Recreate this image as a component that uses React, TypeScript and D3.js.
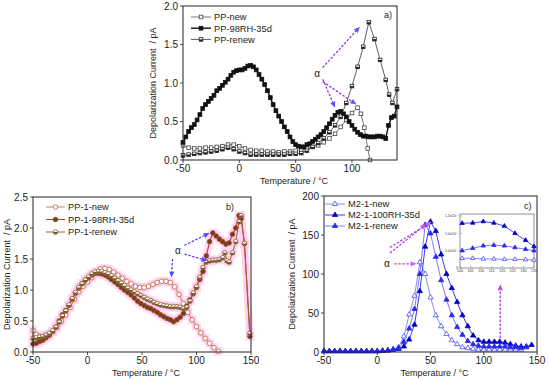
import { useEffect, useRef } from 'react';
import * as d3 from 'd3';

type Pt = [number, number];

// ---- panel a) PP films ----
const ppNew: Pt[] = [
  [-50, 0.19], [-45, 0.16], [-40, 0.15], [-35, 0.15], [-30, 0.16], [-25, 0.16], [-20, 0.17], [-15, 0.18],
  [-10, 0.2], [-5, 0.2], [0, 0.18], [5, 0.15], [10, 0.13], [15, 0.12], [20, 0.12], [25, 0.11], [30, 0.11],
  [35, 0.1], [40, 0.11], [45, 0.11], [50, 0.12], [55, 0.13], [60, 0.15], [65, 0.17], [70, 0.19], [75, 0.23],
  [80, 0.28], [85, 0.34], [90, 0.43], [95, 0.52], [100, 0.61], [105, 0.68], [108, 0.6], [111, 0.42],
  [114, 0.15], [116, 0.0],
];
const pp98: Pt[] = [
  [-50, 0.23], [-47.5, 0.3], [-45, 0.37], [-42.5, 0.42], [-40, 0.46], [-37.5, 0.52], [-35, 0.59], [-32.5, 0.67],
  [-30, 0.72], [-27.5, 0.76], [-25, 0.8], [-22.5, 0.84], [-20, 0.9], [-17.5, 0.93], [-15, 0.97], [-12.5, 1.01],
  [-10, 1.05], [-7.5, 1.1], [-5, 1.14], [-2.5, 1.16], [0, 1.17], [2.5, 1.17], [5, 1.19], [7.5, 1.22],
  [10, 1.23], [12.5, 1.21], [15, 1.17], [17.5, 1.11], [20, 1.05], [22.5, 0.98], [25, 0.9], [27.5, 0.81],
  [30, 0.72], [32.5, 0.64], [35, 0.57], [37.5, 0.5], [40, 0.43], [42.5, 0.37], [45, 0.3], [47.5, 0.24],
  [50, 0.2], [52.5, 0.18], [55, 0.17], [57.5, 0.17], [60, 0.2], [62.5, 0.21], [65, 0.24], [67.5, 0.27],
  [70, 0.3], [72.5, 0.33], [75, 0.37], [77.5, 0.42], [80, 0.47], [82.5, 0.53], [85, 0.58], [87.5, 0.62],
  [90, 0.63], [92.5, 0.6], [95, 0.56], [97.5, 0.5], [100, 0.45], [102.5, 0.4], [105, 0.36], [107.5, 0.33],
  [110, 0.31], [112.5, 0.31], [115, 0.3], [117.5, 0.3], [120, 0.3], [122.5, 0.31], [125, 0.31], [127.5, 0.3],
  [130, 0.28], [132.5, 0.45], [135, 0.55], [137.5, 0.57], [140, 0.69],
];
const ppRenew: Pt[] = [
  [-50, 0.06], [-45, 0.07], [-40, 0.08], [-35, 0.09], [-30, 0.1], [-25, 0.11], [-20, 0.12], [-15, 0.14],
  [-10, 0.16], [-5, 0.14], [0, 0.11], [5, 0.09], [10, 0.07], [15, 0.07], [20, 0.07], [25, 0.07], [30, 0.07],
  [35, 0.07], [40, 0.07], [45, 0.08], [50, 0.08], [55, 0.09], [60, 0.12], [65, 0.17], [70, 0.22], [75, 0.28],
  [80, 0.36], [85, 0.45], [90, 0.56], [95, 0.74], [100, 0.96], [105, 1.21], [110, 1.47], [115, 1.79],
  [120, 1.57], [125, 1.3], [130, 1.04], [133, 0.85], [136, 0.74], [140, 0.92],
];

// ---- panel b) PP-1 films ----
const pp1New: Pt[] = [
  [-50, 0.35], [-47, 0.28], [-44, 0.25], [-40, 0.25], [-36, 0.27], [-32, 0.33], [-28, 0.4], [-24, 0.5],
  [-20, 0.6], [-16, 0.72], [-12, 0.85], [-8, 0.97], [-4, 1.06], [0, 1.13], [4, 1.2], [8, 1.28], [12, 1.34],
  [16, 1.35], [20, 1.33], [24, 1.29], [28, 1.24], [32, 1.19], [36, 1.14], [40, 1.1], [44, 1.06], [48, 1.04],
  [52, 1.04], [56, 1.06], [60, 1.09], [64, 1.12], [68, 1.14], [72, 1.14], [76, 1.12], [80, 1.05], [84, 0.93],
  [88, 0.78], [92, 0.64], [96, 0.52], [100, 0.41], [104, 0.31], [108, 0.22], [112, 0.14], [116, 0.07], [120, 0.01],
];
const pp1Rh: Pt[] = [
  [-50, 0.13], [-47, 0.14], [-44, 0.17], [-41, 0.19], [-38, 0.23], [-35, 0.27], [-32, 0.33], [-29, 0.4],
  [-26, 0.5], [-23, 0.6], [-20, 0.67], [-17, 0.75], [-14, 0.85], [-11, 0.95], [-8, 1.03], [-5, 1.1], [-2, 1.16],
  [1, 1.2], [4, 1.24], [7, 1.27], [10, 1.27], [13, 1.26], [16, 1.24], [19, 1.21], [22, 1.17], [25, 1.13],
  [28, 1.09], [31, 1.04], [34, 1.0], [37, 0.96], [40, 0.92], [43, 0.87], [46, 0.82], [49, 0.78], [52, 0.75],
  [55, 0.72], [58, 0.7], [61, 0.67], [64, 0.64], [67, 0.6], [70, 0.57], [73, 0.54], [76, 0.52], [79, 0.49],
  [82, 0.52], [85, 0.56], [88, 0.62], [91, 0.74], [94, 0.84], [97, 0.94], [100, 1.04], [103, 1.17], [106, 1.3],
  [109, 1.55], [112, 1.78], [115, 1.92], [118, 1.87], [121, 1.82], [124, 1.78], [127, 1.74], [130, 1.76],
  [133, 1.9], [136, 2.0], [139, 2.2], [141, 2.15], [144, 1.75], [149, 0.25],
];
const pp1Renew: Pt[] = [
  [-50, 0.22], [-47, 0.23], [-44, 0.24], [-41, 0.25], [-38, 0.27], [-35, 0.3], [-32, 0.34], [-29, 0.4],
  [-26, 0.48], [-23, 0.58], [-20, 0.66], [-17, 0.76], [-14, 0.86], [-11, 0.96], [-8, 1.04], [-5, 1.1],
  [-2, 1.16], [1, 1.21], [4, 1.26], [7, 1.29], [10, 1.3], [13, 1.3], [16, 1.28], [19, 1.26], [22, 1.23],
  [25, 1.19], [28, 1.15], [31, 1.11], [34, 1.07], [37, 1.03], [40, 1.0], [43, 0.97], [46, 0.94], [49, 0.91],
  [52, 0.88], [55, 0.85], [58, 0.83], [61, 0.8], [64, 0.78], [67, 0.76], [70, 0.75], [73, 0.74], [76, 0.73],
  [79, 0.73], [82, 0.73], [85, 0.72], [88, 0.7], [91, 0.72], [94, 0.82], [97, 0.95], [100, 1.05], [103, 1.2],
  [106, 1.36], [109, 1.45], [112, 1.47], [115, 1.48], [118, 1.48], [121, 1.49], [124, 1.52], [126, 1.6],
  [128, 1.47], [130, 1.45], [133, 1.6], [136, 1.78], [139, 2.1], [141, 2.2], [144, 1.75], [149, 0.3],
];

// ---- panel c) M2-1 films ----
const m2New: Pt[] = [
  [-50, 1], [-45, 1], [-40, 1], [-35, 1], [-30, 1], [-25, 1], [-20, 1], [-15, 1], [-10, 1], [-5, 1], [0, 1],
  [5, 1.5], [10, 2], [15, 3], [20, 6], [25, 20], [30, 48], [35, 72], [40, 115], [45, 100], [50, 70], [55, 47],
  [60, 33], [65, 23], [70, 15], [75, 10], [80, 6], [85, 5], [90, 4], [95, 3], [100, 3], [105, 3], [110, 3],
  [115, 3], [120, 3], [125, 3], [130, 3], [135, 3],
];
const m2Rh: Pt[] = [
  [-50, 1], [-45, 1], [-40, 1], [-35, 1], [-30, 1], [-25, 1], [-20, 1], [-15, 1], [-10, 1], [-5, 1], [0, 1],
  [5, 1.5], [10, 2], [15, 3], [20, 4], [25, 7], [30, 16], [35, 35], [40, 78], [45, 135], [50, 167], [55, 155],
  [60, 125], [65, 100], [70, 82], [75, 64], [80, 47], [85, 33], [90, 21], [95, 15], [100, 13], [105, 13],
  [110, 13], [115, 13], [120, 12], [125, 10], [130, 8], [135, 7], [140, 7], [145, 9],
];
const m2Renew: Pt[] = [
  [-50, 1], [-45, 1], [-40, 1], [-35, 1], [-30, 1], [-25, 1], [-20, 1], [-15, 1], [-10, 1], [-5, 1], [0, 1],
  [5, 1.5], [10, 2], [15, 3], [20, 5], [25, 13], [30, 30], [35, 55], [40, 100], [45, 163], [50, 152],
  [55, 122], [60, 92], [65, 67], [70, 47], [75, 32], [80, 22], [85, 14], [90, 10], [95, 8], [100, 7], [105, 7],
  [110, 7], [115, 7], [120, 7], [125, 6], [130, 6], [135, 5], [140, 6],
];

// inset of panel c)
const insetT = [101, 106, 111, 116, 121, 126, 131, 135];
const insetRh = [0.129, 0.13, 0.134, 0.13, 0.121, 0.1, 0.08, 0.062];
const insetRenew = [0.05, 0.057, 0.064, 0.066, 0.064, 0.059, 0.054, 0.05];
const insetNew = [0.028, 0.028, 0.026, 0.026, 0.025, 0.025, 0.024, 0.023];
const insetXTicks = [100, 105, 110, 115, 120, 125, 130, 135];
const insetYTicks = [0, 0.05, 0.1, 0.15];
const insetYLabels = ['0', '5.0x10\u207B\u00B2', '1.0x10\u207B\u00B9', '1.5x10\u207B\u00B9'];

const ticksA = { x: [-50, 0, 50, 100], y: [0, 0.5, 1, 1.5, 2] };
const ticksB = { x: [-50, 0, 50, 100, 150], y: [0, 0.5, 1, 1.5, 2, 2.5] };
const ticksC = { x: [-50, 0, 50, 100, 150], y: [0, 50, 100, 150, 200] };

const legendA = ['PP-new', 'PP-98RH-35d', 'PP-renew'];
const legendB = ['PP-1-new', 'PP-1-98RH-35d', 'PP-1-renew'];
const legendC = ['M2-1-new', 'M2-1-100RH-35d', 'M2-1-renew'];

// alpha annotations (data coords)
const alphaA: Pt = [69, 1.12];
const arrowsA: [Pt, Pt][] = [[[74, 1.2], [107, 1.73]], [[74, 1.05], [85, 0.68]], [[74, 1.02], [104, 0.72]]];
const alphaB: Pt = [83, 1.63];
const arrowsB: [Pt, Pt][] = [[[89, 1.72], [112, 1.92]], [[89, 1.58], [110, 1.47]], [[78, 1.5], [77, 1.2]]];
const alphaC: Pt = [9, 113];
const arrowsC: [Pt, Pt][] = [[[16, 113], [37, 113]], [[12, 127], [46, 164]], [[12, 134], [51, 167]]];
const arrowC2: [Pt, Pt] = [[115.5, 18], [115.5, 87]];

const FONT = '"Liberation Sans", Arial, Helvetica, sans-serif';

type Marker = 'sqOpen' | 'sqFill' | 'sqHalf' | 'cOpen' | 'cFill' | 'cHalf' | 'tOpen' | 'tFill';
interface Series { data: Pt[]; marker: Marker; line: string; lw: number; stroke: string; fill: string; size: number; }
interface Panel {
  left: number; right: number; top: number; bottom: number;
  xDom: [number, number]; yDom: [number, number];
  ticks: { x: number[]; y: number[] }; yFmt: (v: number) => string;
  series: Series[]; legend: string[]; legendPos: { x0: number; x1: number; tx: number; y: number; dy: number };
  tag: string; tagPos: Pt; yTitleX: number; halo?: string;
  alpha: Pt; arrows: [Pt, Pt][]; dash: string; head: string;
}

type Sel = d3.Selection<SVGGElement, unknown, null, undefined>;

function drawMarker(g: Sel, m: Marker, cx: number, cy: number, s: number, stroke: string, fill: string) {
  const h = s / 2;
  if (m.startsWith('sq')) {
    g.append('rect').attr('x', cx - h).attr('y', cy - h).attr('width', s).attr('height', s)
      .attr('fill', m === 'sqFill' ? fill : '#fff').attr('stroke', stroke).attr('stroke-width', 0.8);
    if (m === 'sqHalf') {
      g.append('rect').attr('x', cx - h).attr('y', cy).attr('width', s).attr('height', h).attr('fill', fill);
    }
  } else if (m.startsWith('c')) {
    g.append('circle').attr('cx', cx).attr('cy', cy).attr('r', h)
      .attr('fill', m === 'cFill' ? fill : '#fff').attr('stroke', stroke).attr('stroke-width', 0.8);
    if (m === 'cHalf') {
      g.append('path').attr('d', `M${cx - h},${cy} A${h},${h} 0 0 0 ${cx + h},${cy} Z`).attr('fill', fill);
    }
  } else {
    const r = s * 0.6;
    const p = `M${cx},${cy - r} L${cx + r * 0.87},${cy + r * 0.5} L${cx - r * 0.87},${cy + r * 0.5} Z`;
    g.append('path').attr('d', p).attr('fill', m === 'tFill' ? fill : '#fff')
      .attr('stroke', stroke).attr('stroke-width', 0.8);
  }
}

function drawArrow(g: Sel, x1: number, y1: number, x2: number, y2: number, dash: string, head: string) {
  const ang = Math.atan2(y2 - y1, x2 - x1);
  const L = 6;
  const bx = x2 - L * Math.cos(ang), by = y2 - L * Math.sin(ang);
  g.append('line').attr('x1', x1).attr('y1', y1).attr('x2', bx).attr('y2', by)
    .attr('stroke', dash).attr('stroke-width', 1.3).attr('stroke-dasharray', '2.5,1.5');
  const px = -Math.sin(ang) * 2.6, py = Math.cos(ang) * 2.6;
  g.append('path').attr('d', `M${x2},${y2} L${bx + px},${by + py} L${bx - px},${by - py} Z`).attr('fill', head);
}

function drawPanel(svg: d3.Selection<SVGSVGElement, unknown, null, undefined>, p: Panel) {
  const x = d3.scaleLinear().domain(p.xDom).range([p.left, p.right]);
  const y = d3.scaleLinear().domain(p.yDom).range([p.bottom, p.top]);
  const g = svg.append('g').style('font-family', FONT);

  // ticks + labels
  p.ticks.x.forEach(t => {
    g.append('line').attr('x1', x(t)).attr('x2', x(t)).attr('y1', p.bottom).attr('y2', p.bottom + 3)
      .attr('stroke', '#222').attr('stroke-width', 0.8);
    g.append('text').attr('x', x(t)).attr('y', p.bottom + 12).attr('text-anchor', 'middle')
      .attr('font-size', 10).attr('fill', '#222').text(t);
  });
  p.ticks.y.forEach(t => {
    g.append('line').attr('x1', p.left - 3).attr('x2', p.left).attr('y1', y(t)).attr('y2', y(t))
      .attr('stroke', '#222').attr('stroke-width', 0.8);
    g.append('text').attr('x', p.left - 5).attr('y', y(t) + 3.5).attr('text-anchor', 'end')
      .attr('font-size', 10).attr('fill', '#222').text(p.yFmt(t));
  });
  g.append('text').attr('x', (p.left + p.right) / 2 + 4).attr('y', p.bottom + 23.5).attr('text-anchor', 'middle')
    .attr('font-size', 9).attr('fill', '#222').text('Temperature / \u00B0C');
  g.append('text').attr('transform', `translate(${p.yTitleX},${(p.top + p.bottom) / 2}) rotate(-90)`)
    .attr('text-anchor', 'middle').attr('dominant-baseline', 'central').style('white-space', 'pre')
    .attr('font-size', 9).attr('fill', '#222').text('Depolarization Current  / pA');

  const line = d3.line<Pt>().x(d => x(d[0])).y(d => y(d[1]));

  if (p.halo) {
    p.series.forEach(s => {
      g.append('path').attr('d', line(s.data)).attr('fill', 'none').attr('stroke', p.halo!)
        .attr('stroke-width', 7).attr('stroke-linejoin', 'round').attr('opacity', 0.6);
      s.data.forEach(d => g.append('rect').attr('x', x(d[0]) - 4.5).attr('y', y(d[1]) - 4.5)
        .attr('width', 9).attr('height', 9).attr('fill', p.halo!).attr('opacity', 0.55));
    });
  }

  p.series.forEach(s => {
    g.append('path').attr('d', line(s.data)).attr('fill', 'none').attr('stroke', s.line)
      .attr('stroke-width', s.lw).attr('stroke-linejoin', 'round');
  });
  p.series.forEach(s => {
    s.data.forEach(d => drawMarker(g, s.marker, x(d[0]), y(d[1]), s.size, s.stroke, s.fill));
  });

  // frame
  g.append('rect').attr('x', p.left).attr('y', p.top).attr('width', p.right - p.left)
    .attr('height', p.bottom - p.top).attr('fill', 'none').attr('stroke', '#222').attr('stroke-width', 1);

  // legend
  const lp = p.legendPos;
  p.series.forEach((s, i) => {
    const ly = lp.y + i * lp.dy;
    g.append('line').attr('x1', lp.x0).attr('x2', lp.x1).attr('y1', ly).attr('y2', ly)
      .attr('stroke', s.line).attr('stroke-width', s.lw);
    drawMarker(g, s.marker, (lp.x0 + lp.x1) / 2, ly, s.size, s.stroke, s.fill);
    g.append('text').attr('x', lp.tx).attr('y', ly + 3.3).attr('font-size', 9.3).attr('fill', '#222').text(p.legend[i]);
  });

  g.append('text').attr('x', p.tagPos[0]).attr('y', p.tagPos[1]).attr('font-size', 9).attr('fill', '#222').text(p.tag);

  // alpha annotations
  g.append('text').attr('x', x(p.alpha[0])).attr('y', y(p.alpha[1]) + 3.5).attr('text-anchor', 'middle')
    .attr('font-size', 10).attr('fill', '#222').text('\u03B1');
  p.arrows.forEach(([a, b]) => drawArrow(g, x(a[0]), y(a[1]), x(b[0]), y(b[1]), p.dash, p.head));
  return { x, y, g };
}

export default function App() {
  const svgRef = useRef<SVGSVGElement>(null);

  useEffect(() => {
    if (!svgRef.current) return;
    const svg = d3.select(svgRef.current);
    svg.selectAll('*').remove();

    drawPanel(svg, {
      left: 183, right: 397, top: 6, bottom: 160, xDom: [-50, 140], yDom: [0, 2],
      ticks: ticksA, yFmt: d3.format('.1f'),
      series: [
        { data: ppNew, marker: 'sqOpen', line: '#555', lw: 0.8, stroke: '#444', fill: '#fff', size: 3.6 },
        { data: pp98, marker: 'sqFill', line: '#111', lw: 1.4, stroke: '#111', fill: '#111', size: 3.8 },
        { data: ppRenew, marker: 'sqHalf', line: '#333', lw: 0.8, stroke: '#222', fill: '#222', size: 3.6 },
      ],
      legend: legendA, legendPos: { x0: 191, x1: 211, tx: 214, y: 17, dy: 11.2 },
      tag: 'a)', tagPos: [384, 18], yTitleX: 153,
      alpha: alphaA, arrows: arrowsA, dash: '#8c3ce6', head: '#5b55ff',
    });

    drawPanel(svg, {
      left: 33, right: 251, top: 197, bottom: 352, xDom: [-50, 150], yDom: [0, 2.5],
      ticks: ticksB, yFmt: d3.format('.1f'),
      series: [
        { data: pp1New, marker: 'cOpen', line: '#b8885e', lw: 1, stroke: '#c0603a', fill: '#fff', size: 4.6 },
        { data: pp1Rh, marker: 'cFill', line: '#e02a2a', lw: 1.1, stroke: '#a8402a', fill: '#6a4418', size: 4.6 },
        { data: pp1Renew, marker: 'cHalf', line: '#98683a', lw: 1, stroke: '#8a5a2a', fill: '#7a5a28', size: 4.6 },
      ],
      legend: legendB, legendPos: { x0: 46, x1: 65, tx: 68, y: 207, dy: 12.5 },
      tag: 'b)', tagPos: [226, 210], yTitleX: 7, halo: '#ffc8ee',
      alpha: alphaB, arrows: arrowsB, dash: '#6a38e0', head: '#4f4ff2',
    });

    const c = drawPanel(svg, {
      left: 324, right: 537, top: 196, bottom: 352, xDom: [-50, 150], yDom: [0, 200],
      ticks: ticksC, yFmt: d3.format('d'),
      series: [
        { data: m2New, marker: 'tOpen', line: '#7a7aff', lw: 0.9, stroke: '#4a4aff', fill: '#fff', size: 5 },
        { data: m2Rh, marker: 'tFill', line: '#3a3ae6', lw: 1, stroke: '#0000c8', fill: '#0000c8', size: 5 },
        { data: m2Renew, marker: 'tFill', line: '#6a6aff', lw: 0.9, stroke: '#2a2aee', fill: '#2a2aee', size: 5 },
      ],
      legend: legendC, legendPos: { x0: 325, x1: 345, tx: 348, y: 204, dy: 11 },
      tag: 'c)', tagPos: [524, 209], yTitleX: 292,
      alpha: alphaC, arrows: arrowsC, dash: '#b044e0', head: '#d062f2',
    });
    drawArrow(c.g, c.x(arrowC2[0][0]), c.y(arrowC2[0][1]), c.x(arrowC2[1][0]), c.y(arrowC2[1][1]), '#a040d8', '#b050e8');

    // inset
    const ix = d3.scaleLinear().domain([100, 135]).range([460, 534]);
    const iy = d3.scaleLinear().domain([0, 0.15]).range([268, 216]);
    const ig = svg.append('g').style('font-family', FONT);
    ig.append('rect').attr('x', 460).attr('y', 214).attr('width', 74).attr('height', 54)
      .attr('fill', '#fff').attr('stroke', '#888').attr('stroke-width', 0.9);
    insetXTicks.forEach(t => {
      ig.append('line').attr('x1', ix(t)).attr('x2', ix(t)).attr('y1', 268).attr('y2', 266).attr('stroke', '#777').attr('stroke-width', 0.5);
      ig.append('text').attr('x', ix(t)).attr('y', 272).attr('text-anchor', 'middle').attr('font-size', 3.6).attr('fill', '#333').text(t);
    });
    insetYTicks.forEach((t, i) => {
      ig.append('line').attr('x1', 460).attr('x2', 462).attr('y1', iy(t)).attr('y2', iy(t)).attr('stroke', '#777').attr('stroke-width', 0.5);
      ig.append('text').attr('x', 458).attr('y', iy(t) + 1.2).attr('text-anchor', 'end').attr('font-size', 3.6).attr('fill', '#333').text(insetYLabels[i]);
    });
    const insetSeries: { v: number[]; m: Marker; line: string; col: string }[] = [
      { v: insetNew, m: 'tOpen', line: '#7a7aff', col: '#4a4aff' },
      { v: insetRenew, m: 'tFill', line: '#6a6aff', col: '#2a2aee' },
      { v: insetRh, m: 'tFill', line: '#3a3ae6', col: '#0000c8' },
    ];
    insetSeries.forEach(s => {
      const pts: Pt[] = insetT.map((t, i) => [t, s.v[i]]);
      ig.append('path').attr('d', d3.line<Pt>().x(d => ix(d[0])).y(d => iy(d[1]))(pts))
        .attr('fill', 'none').attr('stroke', s.line).attr('stroke-width', 0.9);
      pts.forEach(d => drawMarker(ig, s.m, ix(d[0]), iy(d[1]), 4.2, s.col, s.col));
    });
  }, []);

  return (
    <svg ref={svgRef} width={550} height={380}
      style={{ position: 'absolute', left: 0, top: 0, background: '#fff', display: 'block' }} />
  );
}
